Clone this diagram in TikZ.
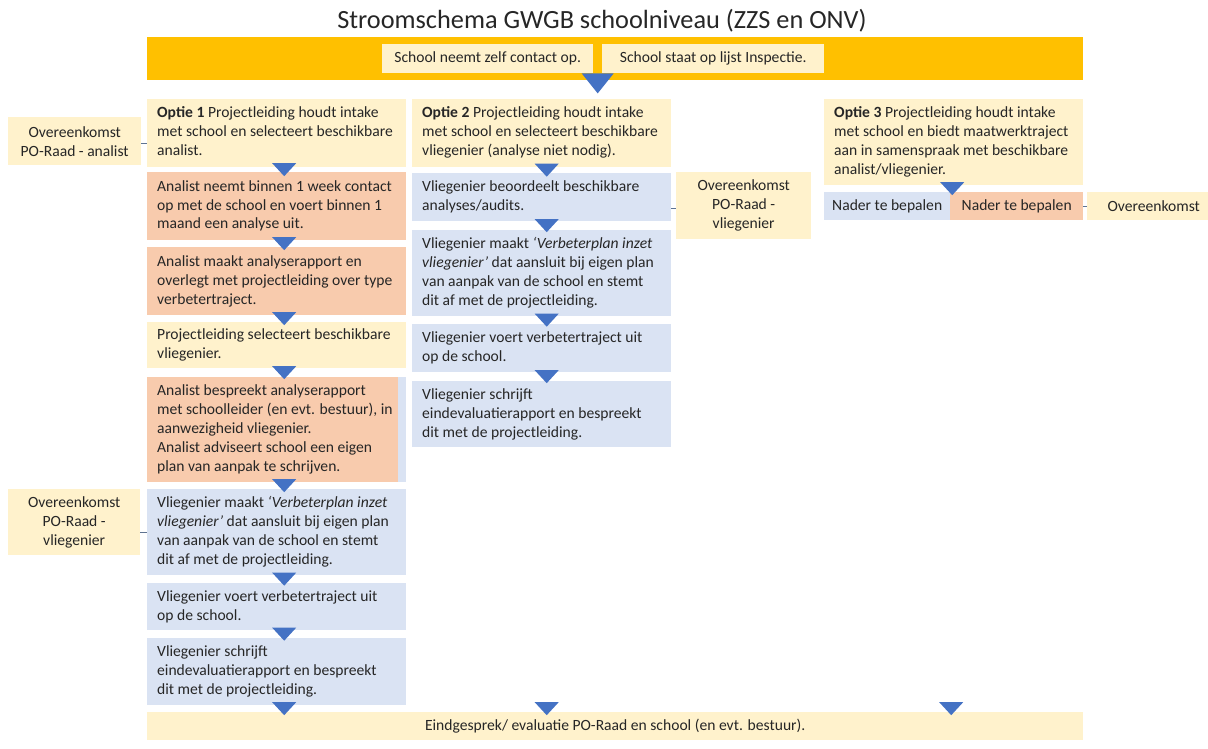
\documentclass[tikz,border=0pt]{standalone}
\usepackage{fontspec}
\setmainfont{Carlito}
\usetikzlibrary{calc}

\definecolor{gold}{HTML}{FFC000}
\definecolor{cream}{HTML}{FFF2CC}
\definecolor{peach}{HTML}{F8CBAD}
\definecolor{paleblue}{HTML}{DAE3F3}
\definecolor{markerblue}{HTML}{4472C4}
\definecolor{ink}{HTML}{262626}
\definecolor{tickgray}{HTML}{5F7391}

\newcommand{\bodyfont}{\fontsize{15.6}{19}\selectfont}
% left-aligned lines that never wrap, in a fixed-width slot
\newcommand{\rows}[1]{\makebox[239pt][l]{\begin{tabular}{@{}l@{}}#1\end{tabular}}}
% down-pointing marker placed halfway between two stacked boxes
\newcommand{\dropbetween}[3]{\pic at ($(#1.south)!0.5!(#2.north)+(#3,0)$) {droptri};}

\tikzset{
  flowcell/.style={anchor=north west, inner xsep=10pt, inner ysep=0pt,
    minimum width=259pt, minimum height=#1, text=ink, font=\bodyfont},
  plainbox/.style={anchor=north west, inner sep=0pt, align=center,
    text=ink, font=\bodyfont},
  linktick/.style={draw=tickgray, line width=1pt},
  droptri/.pic={\fill[markerblue] (-12,-6.5) -- (12,-6.5) -- (0,6.5) -- cycle;},
  bigdrop/.pic={\fill[markerblue] (-16,-10) -- (16,-10) -- (0,10) -- cycle;}
}

\begin{document}
\begin{tikzpicture}[x=1pt, y=-1pt]
\useasboundingbox (0,0) rectangle (1208,749);

% title
\node[text=ink, font=\fontsize{26.3}{30}\selectfont] (title) at (602,21)
  {Stroomschema GWGB schoolniveau (ZZS en ONV)};

% entry bar with the two triggers
\node[plainbox, fill=gold, minimum width=936pt, minimum height=43pt] (entry) at (147,37) {};
\node[plainbox, fill=cream, minimum width=211pt, minimum height=29pt] (selfcontact) at (382,44)
  {School neemt zelf contact op.};
\node[plainbox, fill=cream, minimum width=222pt, minimum height=29pt] (inspectie) at (602,44)
  {School staat op lijst Inspectie.};

% option 1 column
\node[flowcell=68pt, fill=cream] (opt1) at (147,99)
  {\rows{\textbf{Optie 1} Projectleiding houdt intake\\ met school en selecteert beschikbare\\ analist.}};
\node[flowcell=68pt, fill=peach] (an1) at (147,172)
  {\rows{Analist neemt binnen 1 week contact\\ op met de school en voert binnen 1\\ maand een analyse uit.}};
\node[flowcell=68pt, fill=peach] (an2) at (147,247)
  {\rows{Analist maakt analyserapport en\\ overlegt met projectleiding over type\\ verbetertraject.}};
\node[flowcell=46pt, fill=cream] (pl1) at (147,322)
  {\rows{Projectleiding selecteert beschikbare\\ vliegenier.}};
\node[flowcell=105pt, fill=peach] (an3) at (147,377)
  {\rows{Analist bespreekt analyserapport\\ met schoolleider (en evt. bestuur), in\\ aanwezigheid vliegenier.\\ Analist adviseert school een eigen\\ plan van aanpak te schrijven.}};
\fill[paleblue] ($(an3.north east)+(-8,0)$) rectangle (an3.south east);
\node[flowcell=86pt, fill=paleblue] (vl1) at (147,489)
  {\rows{Vliegenier maakt \textit{‘Verbeterplan inzet}\\ \textit{vliegenier’} dat aansluit bij eigen plan\\ van aanpak van de school en stemt\\ dit af met de projectleiding.}};
\node[flowcell=47pt, fill=paleblue] (vl2) at (147,583)
  {\rows{Vliegenier voert verbetertraject uit\\ op de school.}};
\node[flowcell=67pt, fill=paleblue] (vl3) at (147,638)
  {\rows{Vliegenier schrijft\\ eindevaluatierapport en bespreekt\\ dit met de projectleiding.}};

% option 2 column
\node[flowcell=68pt, fill=cream] (opt2) at (412,99)
  {\rows{\textbf{Optie 2} Projectleiding houdt intake\\ met school en selecteert beschikbare\\ vliegenier (analyse niet nodig).}};
\node[flowcell=48pt, fill=paleblue] (vb1) at (412,173)
  {\rows{Vliegenier beoordeelt beschikbare\\ analyses/audits.}};
\node[flowcell=86pt, fill=paleblue] (vb2) at (412,230)
  {\rows{Vliegenier maakt \textit{‘Verbeterplan inzet}\\ \textit{vliegenier’} dat aansluit bij eigen plan\\ van aanpak van de school en stemt\\ dit af met de projectleiding.}};
\node[flowcell=48pt, fill=paleblue] (vb3) at (412,324)
  {\rows{Vliegenier voert verbetertraject uit\\ op de school.}};
\node[flowcell=66pt, fill=paleblue] (vb4) at (412,381)
  {\rows{Vliegenier schrijft\\ eindevaluatierapport en bespreekt\\ dit met de projectleiding.}};

% option 3 column
\node[flowcell=86pt, fill=cream] (opt3) at (824,99)
  {\rows{\textbf{Optie 3} Projectleiding houdt intake\\ met school en biedt maatwerktraject\\ aan in samenspraak met beschikbare\\ analist/vliegenier.}};
\node[plainbox, fill=paleblue, minimum width=126pt, minimum height=28pt] (tbd1) at (824,192)
  {Nader te bepalen};
\node[plainbox, fill=peach, minimum width=133pt, minimum height=28pt] (tbd2) at (950,192)
  {Nader te bepalen};

% closing bar
\node[plainbox, fill=cream, minimum width=936pt, minimum height=28pt] (closing) at (147,712)
  {Eindgesprek/ evaluatie PO-Raad en school (en evt. bestuur).};

% agreements beside the columns
\node[plainbox, fill=cream, minimum width=133pt, minimum height=48pt] (agrA) at (8,117)
  {Overeenkomst\\ PO-Raad - analist};
\node[plainbox, fill=cream, minimum width=132pt, minimum height=66pt] (agrV1) at (8,489)
  {Overeenkomst\\ PO-Raad -\\ vliegenier};
\node[plainbox, fill=cream, minimum width=135pt, minimum height=67pt] (agrV2) at (676,172)
  {Overeenkomst\\ PO-Raad -\\ vliegenier};
\node[plainbox, fill=cream, minimum width=133pt, minimum height=28pt] (agrX) at (1087,192)
  {Overeenkomst};

% short links to the agreements
\draw[linktick] ($(agrA.east)+(0,2)$) -- ($(opt1.west |- agrA.east)+(0,2)$);
\draw[linktick] (agrV1.east |- vl1.west) -- (vl1.west);
\draw[linktick] ($(vb1.east |- agrV2.west)+(0,2.5)$) -- ($(agrV2.west)+(0,2.5)$);
\draw[linktick] (tbd2.east) -- (agrX.west);

% flow markers
\pic at ($(selfcontact.south east)!0.5!(inspectie.south west)+(0,10)$) {bigdrop};
\dropbetween{opt1}{an1}{7.5}
\dropbetween{an1}{an2}{7.5}
\dropbetween{an2}{pl1}{7.5}
\dropbetween{pl1}{an3}{7.5}
\dropbetween{an3}{vl1}{7.5}
\dropbetween{vl1}{vl2}{7.5}
\dropbetween{vl2}{vl3}{7.5}
\pic at ($(vl3.south)!0.5!(vl3.south |- closing.north)+(7.5,0)$) {droptri};
\dropbetween{opt2}{vb1}{5}
\dropbetween{vb1}{vb2}{5}
\dropbetween{vb2}{vb3}{5}
\dropbetween{vb3}{vb4}{5}
\pic at ($(vb4.south |- vl3.south)!0.5!(vb4.south |- closing.north)+(5,0)$) {droptri};
\pic at ($(opt3.south)!0.5!(opt3.south |- tbd1.north)+(-1.5,0)$) {droptri};
\pic at ($(opt3.south |- vl3.south)!0.5!(opt3.south |- closing.north)+(-2.5,0)$) {droptri};
\end{tikzpicture}
\end{document}
